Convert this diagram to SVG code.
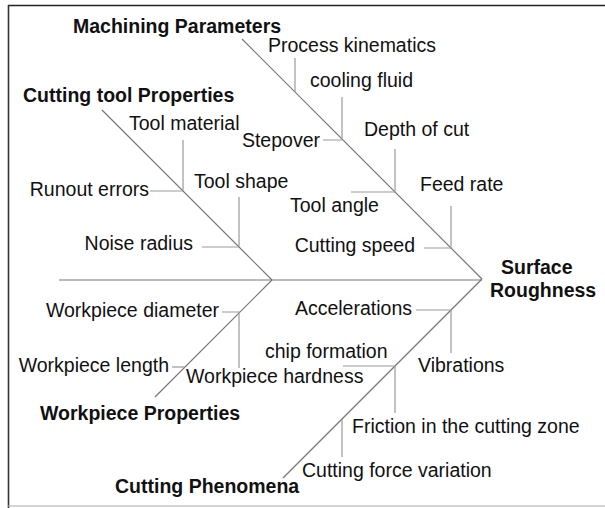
<svg xmlns="http://www.w3.org/2000/svg" width="605" height="508" viewBox="0 0 605 508">
<style>
.t{font-family:"Liberation Sans",Arial,sans-serif;font-size:19.5px;fill:#111}
.b{font-family:"Liberation Sans",Arial,sans-serif;font-size:19.5px;font-weight:bold;fill:#111}
.e{text-anchor:end}
.main{stroke:#777;stroke-width:1.2;fill:none}
.sub{stroke:#9a9a9a;stroke-width:1.2;fill:none}
</style>
<rect width="605" height="508" fill="#fff"/>
<g id="frame">
<line x1="8" y1="5.5" x2="605" y2="5.5" stroke="#222" stroke-width="1.6"/>
<line x1="8.5" y1="5" x2="8.5" y2="508" stroke="#333" stroke-width="1.6"/>
<line x1="8" y1="506" x2="605" y2="506" stroke="#aaa" stroke-width="1"/>
</g>
<g id="connectors">
<path class="main" d="M59 280H482"/>
<path class="main" d="M242 39L482 279"/>
<path class="main" d="M102 110L272 280"/>
<path class="main" d="M272 280L155 397"/>
<path class="main" d="M482 279L283 478"/>
<path class="sub" d="M295 58V92"/>
<path class="sub" d="M342 97V139M323 140H342"/>
<path class="sub" d="M395 149V192M351 192H395"/>
<path class="sub" d="M451 206V248M424 248H451"/>
<path class="sub" d="M183 140V191M150 191H183"/>
<path class="sub" d="M239 197V247M202 247H239"/>
<path class="sub" d="M222 312H240M239 312V368"/>
<path class="sub" d="M172 367H185"/>
<path class="sub" d="M416 310H451M451 310V353"/>
<path class="sub" d="M343 366H395M395 366V413"/>
<path class="sub" d="M342 419V457"/>
</g>
<g id="machining-parameters"><text class="b" x="73" y="33">Machining Parameters</text></g>
<g id="cutting-tool-properties"><text class="b" x="23" y="102">Cutting tool Properties</text></g>
<g id="workpiece-properties"><text class="b" x="40" y="420">Workpiece Properties</text></g>
<g id="cutting-phenomena"><text class="b" x="115" y="493">Cutting Phenomena</text></g>
<g id="surface-roughness"><text class="b" x="501" y="274">Surface</text><text class="b" x="490" y="297">Roughness</text></g>
<g id="process-kinematics"><text class="t" x="268" y="52">Process kinematics</text></g>
<g id="cooling-fluid"><text class="t" x="310" y="87">cooling fluid</text></g>
<g id="stepover"><text class="t e" x="320" y="147">Stepover</text></g>
<g id="depth-of-cut"><text class="t" x="364" y="136">Depth of cut</text></g>
<g id="tool-angle"><text class="t" x="290" y="212">Tool angle</text></g>
<g id="feed-rate"><text class="t" x="420" y="191">Feed rate</text></g>
<g id="cutting-speed"><text class="t e" x="415" y="252">Cutting speed</text></g>
<g id="tool-material"><text class="t" x="129" y="130">Tool material</text></g>
<g id="runout-errors"><text class="t e" x="149" y="196">Runout errors</text></g>
<g id="tool-shape"><text class="t" x="194" y="188">Tool shape</text></g>
<g id="noise-radius"><text class="t e" x="193" y="250">Noise radius</text></g>
<g id="workpiece-diameter"><text class="t e" x="219" y="317">Workpiece diameter</text></g>
<g id="workpiece-length"><text class="t e" x="169" y="372">Workpiece length</text></g>
<g id="workpiece-hardness"><text class="t" x="186" y="383">Workpiece hardness</text></g>
<g id="accelerations"><text class="t e" x="412" y="315">Accelerations</text></g>
<g id="vibrations"><text class="t" x="418" y="372">Vibrations</text></g>
<g id="chip-formation"><text class="t" x="265" y="358">chip formation</text></g>
<g id="friction"><text class="t" x="352" y="433">Friction in the cutting zone</text></g>
<g id="cutting-force-variation"><text class="t" x="302" y="477">Cutting force variation</text></g>
</svg>
